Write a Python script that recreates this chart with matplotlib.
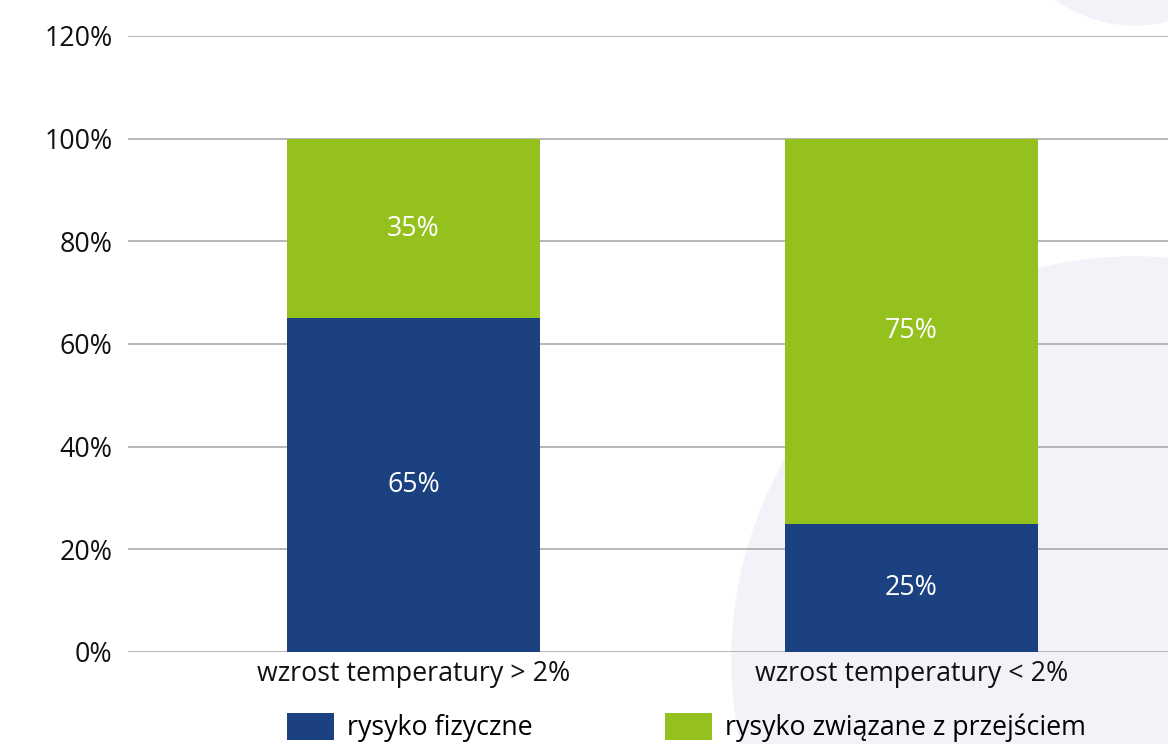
import matplotlib.pyplot as plt
from matplotlib.patches import Circle

categories = ["wzrost temperatury > 2%", "wzrost temperatury < 2%"]
physical = [65, 25]
transition = [35, 75]
series_names = ["rysyko fizyczne", "rysyko związane z przejściem"]
yticks = [0, 20, 40, 60, 80, 100, 120]

BLUE = "#1b4180"
GREEN = "#95c11f"
FS = 19.3

plt.rcParams["font.family"] = ["Open Sans", "DejaVu Sans"]

fig = plt.figure(figsize=(11.68, 7.44), dpi=100)

# decorative background circles (inches, origin bottom left)
fig.add_artist(Circle((11.35, 7.44 + 1.10), 1.35, transform=fig.dpi_scale_trans,
                      color="#f2f2f8", zorder=0))
fig.add_artist(Circle((11.35, 7.44 - 6.60), 4.03, transform=fig.dpi_scale_trans,
                      color="#f2f2f8", zorder=0))

ax = fig.add_axes([128 / 1168, 92 / 744, 1040 / 1168, 616 / 744])
ax.patch.set_alpha(0)

x = list(range(len(categories)))
b1 = ax.bar(x, physical, width=0.508, color=BLUE, label=series_names[0], zorder=3)
b2 = ax.bar(x, transition, width=0.508, bottom=physical, color=GREEN,
            label=series_names[1], zorder=3)

for bars in (b1, b2):
    ax.bar_label(bars, labels=[f"{v:.0f}%" for v in bars.datavalues],
                 label_type="center", color="white", fontsize=FS)

ax.set_ylim(0, 120)
ax.set_xlim(-0.573, 1.515)
ax.set_yticks(yticks)
ax.set_yticklabels([f"{v}%" for v in yticks])
ax.set_xticks(x)
ax.set_xticklabels(categories)
ax.tick_params(axis="both", length=0, labelsize=FS, colors="#111111")
ax.tick_params(axis="y", pad=11)
ax.tick_params(axis="x", pad=6)
ax.grid(axis="y", color="#a3a3a3", linewidth=1.1, zorder=1)
for s in ax.spines.values():
    s.set_visible(False)

fig.legend(handles=[b1, b2], labels=series_names, loc="upper left",
           bbox_to_anchor=(287 / 1168, 1 - 713 / 744), ncol=2, frameon=False,
           fontsize=FS, handlelength=1.75, handleheight=1.15,
           handletextpad=0.5, columnspacing=4.93, borderpad=0, borderaxespad=0)

fig.savefig("out.png", dpi=100)
